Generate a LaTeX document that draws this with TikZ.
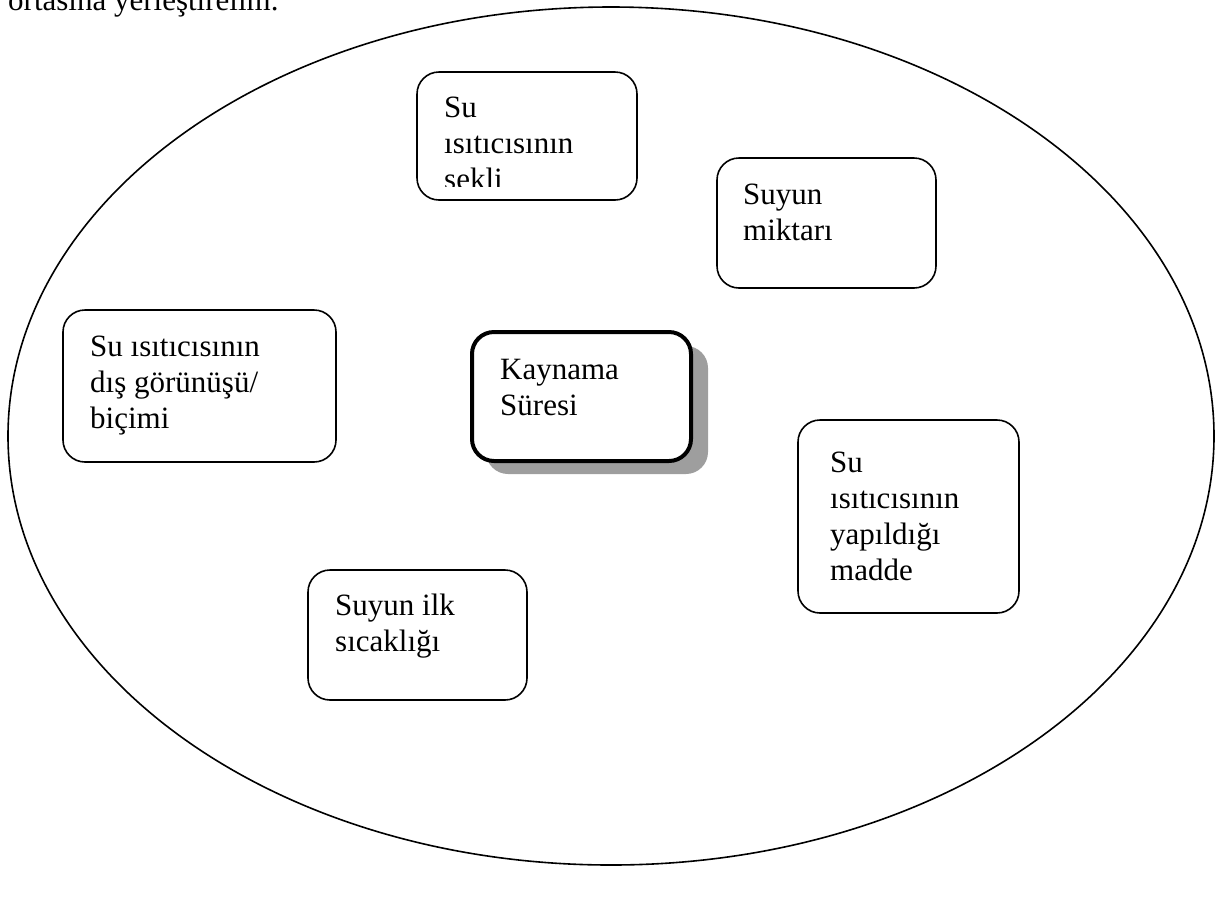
\documentclass[tikz,border=0pt]{standalone}
\usepackage{fontspec}
\setmainfont{Liberation Serif}
\begin{document}
\begin{tikzpicture}[x=1pt,y=-1pt,
  box/.style={draw=black,line width=1.6pt,rounded corners=22pt},
  txt/.style={anchor=north west,inner sep=0pt,align=left,
    font=\fontsize{31}{36}\selectfont},
]
\useasboundingbox (0,0) rectangle (1220,898);
% heading (clipped by the page)
\node[anchor=base west,inner sep=0pt,font=\fontsize{31}{36}\selectfont] (head) at (8,10) {ortasına yerleştirelim.};
% big ellipse
\draw[line width=1.6pt] (611,436) ellipse [x radius=603, y radius=429];
% box 1
\draw[box] (417,72) rectangle (637,200);
\begin{scope}
\clip (417,72) rectangle (637,186);
\node[txt] (t1) at (444,97) {Su\\ısıtıcısının\\sekli};
\end{scope}
% box 2
\draw[box] (717,158) rectangle (936,288);
\node[txt] (t2) at (743,184) {Suyun\\miktarı};
% box 3
\draw[box] (63,310) rectangle (336,462);
\node[txt] (t3) at (90,336) {Su ısıtıcısının\\dış görünüşü/\\biçimi};
% central box with shadow
\fill[black!38,rounded corners=22pt] (486,346) rectangle (708,474);
\draw[draw=black,fill=white,line width=4pt,rounded corners=22pt] (472,332) rectangle (691,461);
\node[txt] (t4) at (500,359) {Kaynama\\Süresi};
% box 5
\draw[box] (798,420) rectangle (1019,613);
\node[txt] (t5) at (830,452) {Su\\ısıtıcısının\\yapıldığı\\madde};
% box 6
\draw[box] (308,570) rectangle (527,700);
\node[txt] (t6) at (335,594) {Suyun ilk\\sıcaklığı};
\end{tikzpicture}
\end{document}
